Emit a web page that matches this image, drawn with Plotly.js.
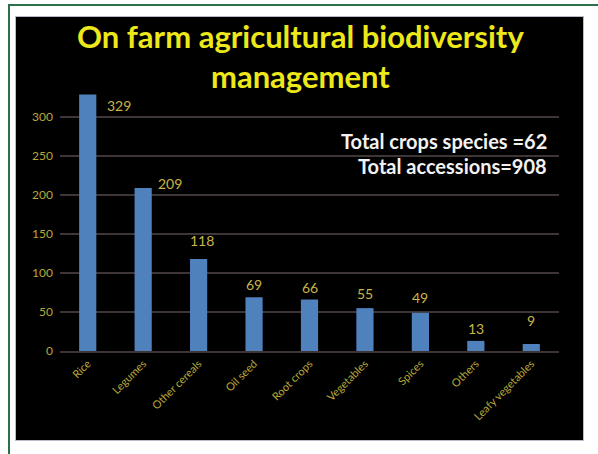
<!DOCTYPE html>
<html>
<head>
<meta charset="utf-8">
<script src="https://cdn.plot.ly/plotly-3.0.1.min.js"></script>
<style>
  html, body { margin: 0; padding: 0; background: #ffffff; width: 598px; height: 454px; overflow: hidden; }
  #frameTop { position: absolute; left: 8px; top: 4px; width: 590px; height: 0; border-top: 2px solid #2a7048; }
  #frameLeft { position: absolute; left: 8px; top: 4px; width: 0; height: 450px; border-left: 2px solid #2a7048; }
  #panel { position: absolute; left: 15px; top: 16px; width: 567px; height: 423px; border: 1px solid #b8bcc8; }
  #chart { position: absolute; left: 16px; top: 17px; width: 567px; height: 423px; }
</style>
</head>
<body>
<div id="frameTop"></div>
<div id="frameLeft"></div>
<div id="panel"></div>
<div id="chart"></div>
<script>
// ---- data ----
const categories = ["Rice", "Legumes", "Other cereals", "Oil seed", "Root crops", "Vegetables", "Spices", "Others", "Leafy vegetables"];
const accessions = [329, 209, 118, 69, 66, 55, 49, 13, 9];
const yTickValues = [0, 50, 100, 150, 200, 250, 300];
const titleText = "On farm agricultural biodiversity<br>management";
const noteLines = ["Total crops species =62", "Total accessions=908"];
const noteLevels = [270, 238];

// ---- label placement (style, pixels) ----
const labelDx = [31, 27, 3, 0, 0, 0, 0, 0, 0];
const labelDy = [-11, 5, 19, 13, 12, 15, 15, 12, 23];

const labelColor = "#c9b548";
const tickColor = "#b8a838";
const gridColor = "#3e3636";
const FONT = "Lato, 'Open Sans', sans-serif";

const annotations = categories.map((c, i) => ({
  x: c, y: accessions[i], xref: "x", yref: "y",
  text: String(accessions[i]), showarrow: false,
  xanchor: "center", yanchor: "middle",
  xshift: labelDx[i], yshift: labelDy[i],
  font: { family: FONT, size: 14, color: labelColor }
}));
noteLines.forEach((t, i) => annotations.push({
  x: 0.98, xref: "paper", y: noteLevels[i], yref: "y",
  text: t, showarrow: false, xanchor: "right", yanchor: "middle",
  font: { family: FONT, size: 20, color: "#f2f2f2", weight: "bold" }
}));
annotations.push({
  x: 0.481, xref: "paper", y: 1.115, yref: "paper",
  text: titleText, showarrow: false, xanchor: "center", yanchor: "middle",
  align: "center",
  font: { family: FONT, size: 31, color: "#ece81a", weight: "bold" }
});

const trace = {
  type: "bar",
  x: categories,
  y: accessions,
  marker: { color: "#4f81bd", line: { width: 0 } },
  hoverinfo: "x+y"
};

const layout = {
  width: 567, height: 423,
  paper_bgcolor: "#000000", plot_bgcolor: "#000000",
  margin: { l: 44, r: 24, t: 69, b: 89 },
  showlegend: false,
  bargap: 0.69,
  xaxis: {
    type: "category",
    tickangle: -45,
    tickfont: { family: FONT, size: 11, color: tickColor },
    showgrid: false, zeroline: false,
    showline: true, linecolor: gridColor, linewidth: 2,
    ticks: "", fixedrange: true
  },
  yaxis: {
    range: [0, 340],
    tickvals: yTickValues,
    ticktext: yTickValues.map(String),
    tickfont: { family: FONT, size: 12, color: tickColor },
    showgrid: true, gridcolor: gridColor, gridwidth: 2,
    zeroline: false, showline: false, ticks: "",
    ticklabelstandoff: 6,
    fixedrange: true
  },
  annotations: annotations
};

Plotly.newPlot("chart", [trace], layout, { displayModeBar: false, staticPlot: true });
</script>
</body>
</html>
